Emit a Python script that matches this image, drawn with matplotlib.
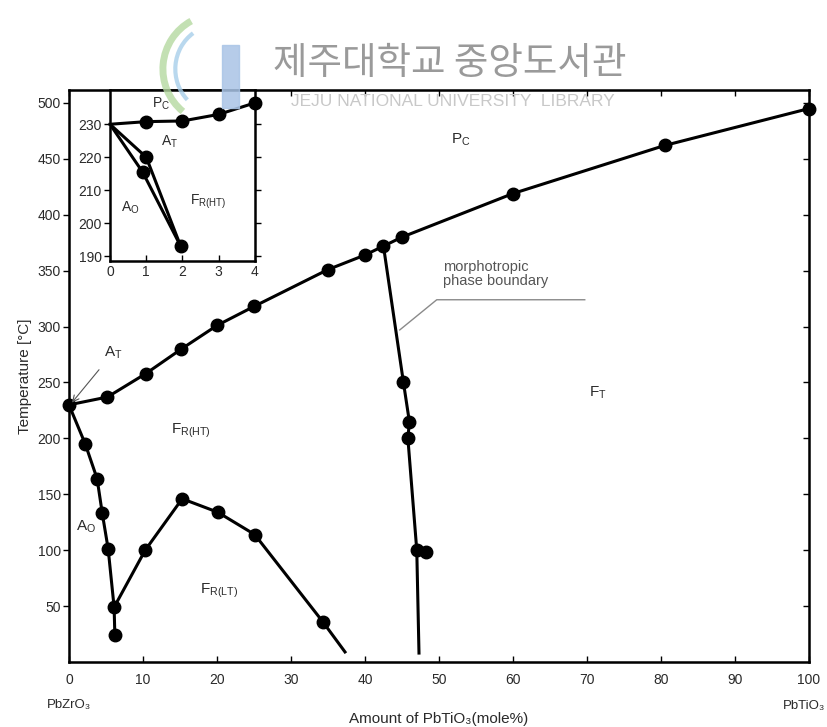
import matplotlib
matplotlib.use("Agg")
import matplotlib.pyplot as plt
from matplotlib import font_manager
from matplotlib.patches import Arc, Rectangle

# font: narrow sans if available
names = {f.name for f in font_manager.fontManager.ttflist}
FONT = "Liberation Sans Narrow" if "Liberation Sans Narrow" in names else "Liberation Sans"
plt.rcParams["font.family"] = [FONT, "DejaVu Sans"]
plt.rcParams["mathtext.default"] = "regular"

# paraelectric (Pc) boundary
pc_x = [0, 5.2, 10.4, 15.2, 20, 25, 35, 40, 42.5, 45, 60, 80.5, 100]
pc_T = [230, 237, 258, 280, 301, 318, 351, 364, 372, 380, 419, 462, 495]

# morphotropic phase boundary
mpb_x = [42.5, 45.2, 46.0, 45.8, 47.0, 47.3]
mpb_T = [372, 250, 215, 200, 100, 8]
mpb_extra_x = [48.3]
mpb_extra_T = [98]

# antiferroelectric (Ao) boundary
ao_x = [0, 2.2, 3.8, 4.5, 5.3, 6.1, 6.2]
ao_T = [230, 195, 164, 133, 101, 49, 24]

# FR(HT) / FR(LT) boundary
lt_x = [6.1, 10.3, 15.3, 20.1, 25.1, 34.3, 37.3]
lt_T = [49, 100, 146, 134, 114, 36, 9]

# inset, 0-4 mole%
in_pc_x = [0, 1, 2, 3, 4]
in_pc_T = [230, 230.8, 231, 233, 236.5]
in_at_x = [0, 1.0, 1.95]
in_at_T = [230, 220, 193]
in_ao_x = [0, 0.9, 1.95]
in_ao_T = [230, 215.5, 193]

x_ticks = [0, 10, 20, 30, 40, 50, 60, 70, 80, 90, 100]
y_ticks = [50, 100, 150, 200, 250, 300, 350, 400, 450, 500]
in_x_ticks = [0, 1, 2, 3, 4]
in_y_ticks = [190, 200, 210, 220, 230]

TXT = "#2a2a2a"
LW = 2.2
MS = 9

fig = plt.figure(figsize=(8.27, 7.27), dpi=100)
ax = fig.add_axes([0.0834, 0.0894, 0.8948, 0.7868])

ax.plot(pc_x, pc_T, "-o", color="black", lw=LW, ms=MS, clip_on=False, zorder=3)
ax.plot(mpb_x, mpb_T, "-o", color="black", lw=LW, ms=MS, markevery=[1, 2, 3, 4], zorder=3)
ax.plot(mpb_extra_x, mpb_extra_T, "o", color="black", ms=MS, zorder=3)
ax.plot(ao_x, ao_T, "-o", color="black", lw=LW, ms=MS, markevery=[1, 2, 3, 4, 5, 6], zorder=3)
ax.plot(lt_x, lt_T, "-o", color="black", lw=LW, ms=MS, markevery=[1, 2, 3, 4, 5], zorder=3)

ax.set_xlim(0, 100)
ax.set_ylim(0, 511.6)
ax.set_xticks(x_ticks)
ax.set_yticks(y_ticks)
ax.tick_params(axis="x", direction="in", top=True, length=4, width=1, labelsize=10,
               labelcolor=TXT, pad=8)
ax.tick_params(axis="y", direction="out", length=4, width=1, labelsize=10,
               labelcolor=TXT, pad=2)
for s in ax.spines.values():
    s.set_linewidth(1.8)

# right-hand ticks point inward
axr = ax.twinx()
axr.set_ylim(ax.get_ylim())
axr.set_yticks(y_ticks)
axr.tick_params(axis="y", direction="in", length=4, width=1, labelright=False)

ax.set_ylabel("Temperature [°C]", fontsize=11, color=TXT, labelpad=4)
ax.set_xlabel("Amount of PbTiO₃(mole%)", fontsize=11, color=TXT, labelpad=18)
ax.text(0, -0.075, "PbZrO₃", transform=ax.transAxes, ha="center", va="center",
        fontsize=9.5, color=TXT)
fig.text(0.998, 0.029, "PbTiO₃", ha="right", va="center", fontsize=9.5, color=TXT)

# phase labels
ax.text(53, 467, "$P_C$", fontsize=11, color=TXT, ha="center", va="center")
ax.text(71.5, 241, "$F_T$", fontsize=11, color=TXT, ha="center", va="center")
ax.text(16.5, 207, "$F_{R(HT)}$", fontsize=11, color=TXT, ha="center", va="center")
ax.text(2.3, 121, "$A_O$", fontsize=11, color=TXT, ha="center", va="center")
ax.text(20.3, 64, "$F_{R(LT)}$", fontsize=11, color=TXT, ha="center", va="center")
ax.annotate("$A_T$", xy=(0.4, 232), xytext=(6.0, 277), fontsize=11, color=TXT,
            ha="center", va="center",
            arrowprops=dict(arrowstyle="->", color="#555555", lw=0.8, shrinkA=6, shrinkB=0))

# leader to the morphotropic boundary
ax.plot([44.7, 49.7, 69.7], [297, 324, 324], color="#8a8a8a", lw=1.0, zorder=2)
ax.text(50.5, 347, "morphotropic\nphase boundary", fontsize=10.5, color="#555555",
        ha="left", va="center", linespacing=0.95)

# inset
axi = fig.add_axes([0.1330, 0.6410, 0.1753, 0.2352])
axi.plot(in_pc_x, in_pc_T, "-o", color="black", lw=LW, ms=MS, markevery=[1, 2, 3, 4],
         clip_on=False, zorder=3)
axi.plot(in_at_x, in_at_T, "-o", color="black", lw=LW, ms=MS, markevery=[1, 2], zorder=3)
axi.plot(in_ao_x, in_ao_T, "-o", color="black", lw=LW, ms=MS, markevery=[1], zorder=3)
axi.set_xlim(0, 4)
axi.set_ylim(188.5, 240.4)
axi.set_xticks(in_x_ticks)
axi.set_yticks(in_y_ticks)
axi.tick_params(axis="x", direction="in", length=4, width=1, labelsize=10, labelcolor=TXT, pad=3)
axi.tick_params(axis="y", direction="out", length=4, width=1, labelsize=10, labelcolor=TXT,
                right=True, pad=2)
for s in axi.spines.values():
    s.set_linewidth(1.8)
axi.text(1.4, 236.2, "$P_C$", fontsize=10, color=TXT, ha="center", va="center")
axi.text(1.65, 224.8, "$A_T$", fontsize=10, color=TXT, ha="center", va="center")
axi.text(0.55, 204.6, "$A_O$", fontsize=10, color=TXT, ha="center", va="center")
axi.text(2.2, 206.5, "$F_{R(HT)}$", fontsize=10, color=TXT, ha="left", va="center")

# library watermark
fig.add_artist(Rectangle((0.268, 0.851), 0.021, 0.087, transform=fig.transFigure,
                         color="#a9c4e6", alpha=0.85, zorder=10))
fig.add_artist(Arc((0.262, 0.905), 0.13, 0.15, theta1=115, theta2=235,
                   transform=fig.transFigure, color="#b5d9a0", lw=5, alpha=0.8, zorder=10))
fig.add_artist(Arc((0.262, 0.905), 0.10, 0.12, theta1=120, theta2=230,
                   transform=fig.transFigure, color="#a8cfea", lw=3, alpha=0.8, zorder=10))
fig.text(0.544, 0.913, "제주대학교 중앙도서관", fontsize=27, color="#9a9a9a",
         ha="center", va="center", family=["Noto Sans CJK KR", "DejaVu Sans"], zorder=10)
fig.text(0.548, 0.860, "JEJU NATIONAL UNIVERSITY  LIBRARY", fontsize=12.5, color="#c8c8c8",
         ha="center", va="center", family=["Liberation Sans", "DejaVu Sans"], zorder=10)

fig.savefig("out.png", dpi=100)
